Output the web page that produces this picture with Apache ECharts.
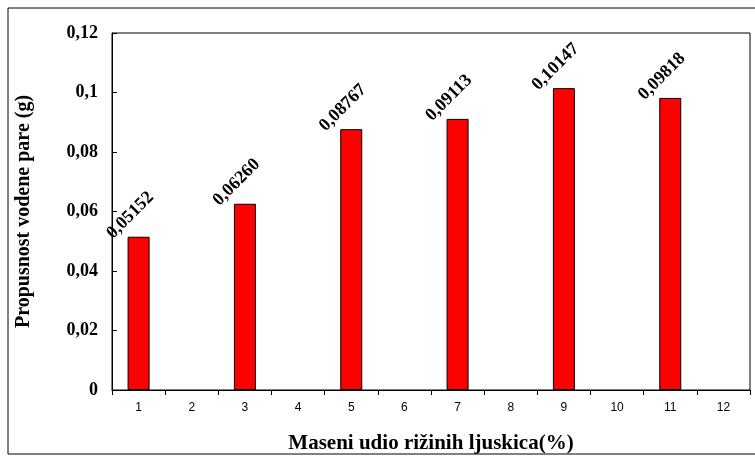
<!DOCTYPE html>
<html><head><meta charset="utf-8">
<script src="https://cdn.jsdelivr.net/npm/echarts@6/dist/echarts.min.js"></script>
<style>html,body{margin:0;padding:0;background:#fff}#main{width:755px;height:461px}</style>
</head><body><div id="main"></div>
<script>
var categories = ['1','2','3','4','5','6','7','8','9','10','11','12'];
var values = [0.05152,null,0.06260,null,0.08767,null,0.09113,null,0.10147,null,0.09818,null];
var labels = ['0,05152','','0,06260','','0,08767','','0,09113','','0,10147','','0,09818',''];
var yTicks = ['0','0,02','0,04','0,06','0,08','0,1','0,12'];

var chart = echarts.init(document.getElementById('main'));
var serif = 'Liberation Serif, Times New Roman, serif';
chart.setOption({
  animation: false,
  graphic: [{type:'rect', shape:{x:8,y:8,width:760,height:446}, style:{fill:'none',stroke:'#000',lineWidth:1}}],
  grid: {left:112, right:5, top:33, bottom:71, show:true, borderColor:'#000', borderWidth:1},
  xAxis: {
    type:'category', data:categories,
    name:'Maseni udio rižinih ljuskica(%)', nameLocation:'middle', nameGap:43,
    nameTextStyle:{fontFamily:serif, fontWeight:'bold', fontSize:21, color:'#000'},
    axisLine:{lineStyle:{color:'#000'}},
    axisTick:{show:true, lineStyle:{color:'#000'}},
    axisLabel:{fontFamily:'Liberation Sans, Arial', fontSize:12, color:'#000', margin:12}
  },
  yAxis: {
    type:'value', min:0, max:0.12, interval:0.02,
    name:'Propusnost vodene pare (g)', nameLocation:'middle', nameGap:78,
    nameTextStyle:{fontFamily:serif, fontWeight:'bold', fontSize:20, color:'#000'},
    axisLine:{show:true, lineStyle:{color:'#000'}},
    axisTick:{show:true, inside:true, lineStyle:{color:'#000'}},
    splitLine:{show:false},
    axisLabel:{fontFamily:serif, fontWeight:'bold', fontSize:18, color:'#000', margin:14,
      formatter:function(v){return yTicks[Math.round(v/0.02)];}}
  },
  series: [{
    type:'bar', data:values, barWidth:22,
    itemStyle:{color:'#ff0000', borderColor:'#000', borderWidth:1},
    label:{show:true, position:'top', rotate:45, align:'left', verticalAlign:'middle', distance:0, offset:[-20,-21],
      fontFamily:serif, fontWeight:'bold', fontSize:18, color:'#000',
      formatter:function(p){return labels[p.dataIndex];}}
  }]
});
</script></body></html>
